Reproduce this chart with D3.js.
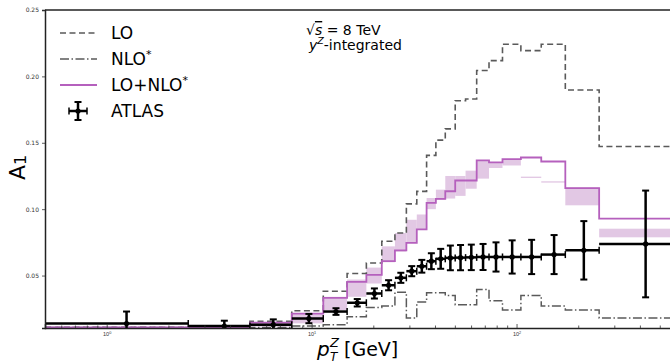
<!DOCTYPE html>
<html>
<head>
<meta charset="utf-8">
<script src="https://cdn.jsdelivr.net/npm/d3@7"></script>
<style>
body { margin: 0; background: #fff; }
svg { display: block; font-family: "DejaVu Sans", sans-serif; }
</style>
</head>
<body>
<script>

// pT^Z bin edges [GeV]
var binEdges = [0, 2.5, 5, 8, 11.4, 14.9, 18.5, 22, 25.5, 29, 32.6, 36.4, 40.4, 44.9, 50.2, 56.4, 63.9, 73.4, 85.4, 105, 132, 173, 253, 600];

var loVals = [0.011, 0.011, 0.0155, 0.0235, 0.0382, 0.0515, 0.0595, 0.0758, 0.082, 0.104, 0.1134, 0.1405, 0.152, 0.1605, 0.1816, 0.183, 0.2044, 0.2119, 0.2242, 0.2194, 0.2242, 0.1898, 0.1472];
var nloVals = [0.0108, 0.0108, 0.0108, 0.012, 0.013, 0.019, 0.026, 0.027, 0.0375, 0.018, 0.030, 0.037, 0.037, 0.035, 0.028, 0.028, 0.0395, 0.031, 0.024, 0.035, 0.027, 0.024, 0.018];
var sumVals = [0.011, 0.011, 0.0145, 0.0214, 0.0332, 0.0452, 0.0505, 0.0608, 0.069, 0.0746, 0.0848, 0.1047, 0.1078, 0.1135, 0.1216, 0.1216, 0.1368, 0.1352, 0.1377, 0.1389, 0.1359, 0.1159, 0.0929];
var bandLow = [0.0105, 0.0105, 0.0115, 0.014, 0.024, 0.034, 0.044, 0.060, 0.068, 0.0746, 0.0846, 0.100, 0.107, 0.108, 0.110, 0.1154, 0.123, 0.131, 0.1329, 0.1235, 0.120, 0.1029, 0.0788];
var bandHigh = [0.011, 0.0112, 0.0145, 0.0215, 0.034, 0.047, 0.056, 0.072, 0.082, 0.092, 0.096, 0.1084, 0.1147, 0.125, 0.125, 0.129, 0.1365, 0.1352, 0.1377, 0.1245, 0.121, 0.1164, 0.0853];

var atlasVals = [0.0139, 0.012, 0.013, 0.0176, 0.0229, 0.0295, 0.0365, 0.0427, 0.0483, 0.0533, 0.057, 0.0608, 0.0626, 0.0633, 0.0635, 0.0637, 0.064, 0.064, 0.064, 0.064, 0.0658, 0.069, 0.0738];
var atlasErr = [0.009, 0.004, 0.004, 0.0035, 0.0025, 0.0028, 0.0038, 0.0038, 0.0038, 0.0038, 0.0048, 0.006, 0.0075, 0.0093, 0.0095, 0.0096, 0.0098, 0.011, 0.0125, 0.0129, 0.0147, 0.022, 0.0402];

var yTicks = [0.05, 0.10, 0.15, 0.20, 0.25];
var xTicks = [1, 10, 100];
var xTickLabels = ['0', '1', '2'];

var W = 670, H = 364;
var svg = d3.select('body').append('svg')
    .attr('width', W)
    .attr('height', H);

var x = d3.scaleLog().domain([0.5, 600]).range([45, 676]);
var y = d3.scaleLinear().domain([0.0105, 0.25]).range([328, 10]);

var lineCol = '#5a5a5a';
var magenta = '#b560bd';

svg.append('clipPath').attr('id', 'plotclip')
  .append('rect')
    .attr('x', x.range()[0])
    .attr('y', y.range()[1])
    .attr('width', x.range()[1] - x.range()[0])
    .attr('height', y.range()[0] - y.range()[1]);

var plot = svg.append('g').attr('clip-path', 'url(#plotclip)');

function lowEdge(i) { return Math.max(binEdges[i], x.domain()[0]); }

function stepPoints(vals) {
    var pts = vals.map(function(v, i) { return [lowEdge(i), v]; });
    pts.push([binEdges[vals.length], vals[vals.length - 1]]);
    return pts;
}

var stepLine = d3.line()
    .x(function(d) { return x(d[0]); })
    .y(function(d) { return y(d[1]); })
    .curve(d3.curveStepAfter);

// uncertainty band
plot.selectAll('rect.band')
    .data(bandLow)
  .enter().append('rect')
    .attr('class', 'band')
    .attr('x', function(d, i) { return x(lowEdge(i)); })
    .attr('width', function(d, i) { return x(binEdges[i + 1]) - x(lowEdge(i)); })
    .attr('y', function(d, i) { return y(bandHigh[i]); })
    .attr('height', function(d, i) { return Math.max(1, y(d) - y(bandHigh[i])); })
    .attr('fill', '#e2c8e4');

plot.append('path')
    .attr('d', stepLine(stepPoints(loVals)))
    .attr('fill', 'none')
    .attr('stroke', lineCol)
    .attr('stroke-width', 1.6)
    .attr('stroke-dasharray', '6,3.5');

plot.append('path')
    .attr('d', stepLine(stepPoints(nloVals)))
    .attr('fill', 'none')
    .attr('stroke', lineCol)
    .attr('stroke-width', 1.5)
    .attr('stroke-dasharray', '9,2.5,1.5,2.5');

plot.append('path')
    .attr('d', stepLine(stepPoints(sumVals)))
    .attr('fill', 'none')
    .attr('stroke', magenta)
    .attr('stroke-width', 1.8);

// ATLAS data points
var atlas = plot.selectAll('g.atlas')
    .data(atlasVals)
  .enter().append('g')
    .attr('class', 'atlas');

atlas.append('line')
    .attr('x1', function(d, i) { return x(lowEdge(i)); })
    .attr('x2', function(d, i) { return x(binEdges[i + 1]); })
    .attr('y1', function(d) { return y(d); })
    .attr('y2', function(d) { return y(d); })
    .attr('stroke', 'black')
    .attr('stroke-width', 2.5);

function cx(i) { return x((binEdges[i] + binEdges[i + 1]) / 2); }

atlas.append('line')
    .attr('x1', function(d, i) { return cx(i); })
    .attr('x2', function(d, i) { return cx(i); })
    .attr('y1', function(d, i) { return y(d - atlasErr[i]); })
    .attr('y2', function(d, i) { return y(d + atlasErr[i]); })
    .attr('stroke', 'black')
    .attr('stroke-width', 2.5);

[-1, 1].forEach(function(s) {
    atlas.append('line')
        .attr('x1', function(d, i) { return cx(i) - 3.5; })
        .attr('x2', function(d, i) { return cx(i) + 3.5; })
        .attr('y1', function(d, i) { return y(d + s * atlasErr[i]); })
        .attr('y2', function(d, i) { return y(d + s * atlasErr[i]); })
        .attr('stroke', 'black')
        .attr('stroke-width', 2);
});

atlas.append('line')
    .attr('x1', function(d, i) { return x(binEdges[i + 1]); })
    .attr('x2', function(d, i) { return x(binEdges[i + 1]); })
    .attr('y1', function(d) { return y(d) - 3.5; })
    .attr('y2', function(d) { return y(d) + 3.5; })
    .attr('stroke', 'black')
    .attr('stroke-width', 1.5);

atlas.append('circle')
    .attr('cx', function(d, i) { return cx(i); })
    .attr('cy', function(d) { return y(d); })
    .attr('r', 2.6)
    .attr('fill', 'black');

// axes
var xAxisMajor = d3.axisBottom(x).tickValues(xTicks).tickSize(-4).tickFormat('');
var minor = [];
[0.1, 1, 10, 100].forEach(function(dec) {
    for (var k = 2; k <= 9; k++) {
        var v = dec * k;
        if (v >= x.domain()[0] && v <= x.domain()[1]) minor.push(v);
    }
});
var xAxisMinor = d3.axisBottom(x).tickValues(minor).tickSize(-2.5).tickFormat('');

var gx = svg.append('g').attr('transform', 'translate(0,' + y.range()[0] + ')').call(xAxisMajor);
var gxm = svg.append('g').attr('transform', 'translate(0,' + y.range()[0] + ')').call(xAxisMinor);
gxm.select('.domain').remove();
[gx, gxm].forEach(function(g) {
    g.selectAll('line').attr('stroke', '#333').attr('stroke-width', 0.8);
});
gx.select('.domain').attr('stroke', '#222').attr('stroke-width', 1.5);

gx.selectAll('.tick').each(function(d, i) {
    var t = d3.select(this).append('text')
        .attr('y', 8)
        .attr('fill', '#333')
        .attr('font-size', '5.5px')
        .attr('text-anchor', 'middle');
    t.append('tspan').text('10');
    t.append('tspan').attr('dy', -2).attr('font-size', '3.8px').text(xTickLabels[i]);
});

var gy = svg.append('g').attr('transform', 'translate(' + x.range()[0] + ',0)')
    .call(d3.axisLeft(y).tickValues(yTicks).tickSize(3).tickFormat(d3.format('.2f')));
gy.select('.domain').attr('stroke', '#222').attr('stroke-width', 1.5);
gy.selectAll('.tick line').attr('stroke', '#333').attr('stroke-width', 0.8);
gy.selectAll('.tick text')
    .attr('font-size', '6px')
    .attr('fill', '#333')
    .attr('font-family', '"DejaVu Sans", sans-serif');

svg.append('line')
    .attr('x1', x.range()[0]).attr('x2', W)
    .attr('y1', y.range()[1]).attr('y2', y.range()[1])
    .attr('stroke', '#222').attr('stroke-width', 1.5);

// axis labels
var ylab = svg.append('text')
    .attr('transform', 'translate(25,180) rotate(-90)')
    .attr('font-size', '22px')
    .attr('fill', 'black');
ylab.append('tspan').text('A');
ylab.append('tspan').attr('font-size', '16px').attr('dy', 1).text('1');

svg.append('text').attr('x', 317).attr('y', 356)
    .attr('font-size', '20px').attr('font-style', 'italic').text('p');
svg.append('text').attr('x', 330).attr('y', 347)
    .attr('font-size', '13px').attr('font-style', 'italic').text('Z');
svg.append('text').attr('x', 330).attr('y', 361)
    .attr('font-size', '12px').attr('font-style', 'italic').text('T');
svg.append('text').attr('x', 344).attr('y', 356)
    .attr('font-size', '19px').text('[GeV]');

// annotation
var ann1 = svg.append('text').attr('x', 306).attr('y', 35).attr('font-size', '14px');
ann1.append('tspan').text('\u221A');
ann1.append('tspan').attr('font-style', 'italic').style('text-decoration', 'overline').text('s');
ann1.append('tspan').text(' = 8 TeV');

var ann2 = svg.append('text').attr('x', 309).attr('y', 50).attr('font-size', '14px');
ann2.append('tspan').attr('font-style', 'italic').text('y');
ann2.append('tspan').attr('font-style', 'italic').attr('font-size', '9.5px').attr('dy', -6).text('Z');
ann2.append('tspan').attr('dy', 6).text('-integrated');

// legend
var legendNames = ['LO', 'NLO', 'LO+NLO', 'ATLAS'];
var legendStars = [false, true, true, false];
var legend = svg.append('g');
var rowY = d3.scalePoint().domain(legendNames).range([33, 111]);

legend.append('line').attr('x1', 60).attr('x2', 97)
    .attr('y1', rowY('LO')).attr('y2', rowY('LO'))
    .attr('stroke', lineCol).attr('stroke-width', 1.6).attr('stroke-dasharray', '6,3.5');
legend.append('line').attr('x1', 60).attr('x2', 97)
    .attr('y1', rowY('NLO')).attr('y2', rowY('NLO'))
    .attr('stroke', lineCol).attr('stroke-width', 1.5).attr('stroke-dasharray', '9,2.5,1.5,2.5');
legend.append('line').attr('x1', 60).attr('x2', 97)
    .attr('y1', rowY('LO+NLO')).attr('y2', rowY('LO+NLO'))
    .attr('stroke', magenta).attr('stroke-width', 2);

var ay = rowY('ATLAS');
legend.append('line').attr('x1', 69).attr('x2', 87).attr('y1', ay).attr('y2', ay)
    .attr('stroke', 'black').attr('stroke-width', 2.5);
legend.append('line').attr('x1', 78).attr('x2', 78).attr('y1', ay - 9).attr('y2', ay + 9)
    .attr('stroke', 'black').attr('stroke-width', 2.5);
[-9, 9].forEach(function(o) {
    legend.append('line').attr('x1', 74.5).attr('x2', 81.5).attr('y1', ay + o).attr('y2', ay + o)
        .attr('stroke', 'black').attr('stroke-width', 2);
});
[69, 87].forEach(function(xx) {
    legend.append('line').attr('x1', xx).attr('x2', xx).attr('y1', ay - 3.5).attr('y2', ay + 3.5)
        .attr('stroke', 'black').attr('stroke-width', 1.5);
});
legend.append('circle').attr('cx', 78).attr('cy', ay).attr('r', 2.6).attr('fill', 'black');

legendNames.forEach(function(n, i) {
    var t = legend.append('text')
        .attr('x', 111)
        .attr('y', rowY(n) + 6)
        .attr('font-size', '17px')
        .attr('fill', 'black');
    t.append('tspan').text(n);
    if (legendStars[i]) {
        t.append('tspan').attr('font-size', '11px').attr('dy', -7).text('*');
    }
});

</script>
</body>
</html>
